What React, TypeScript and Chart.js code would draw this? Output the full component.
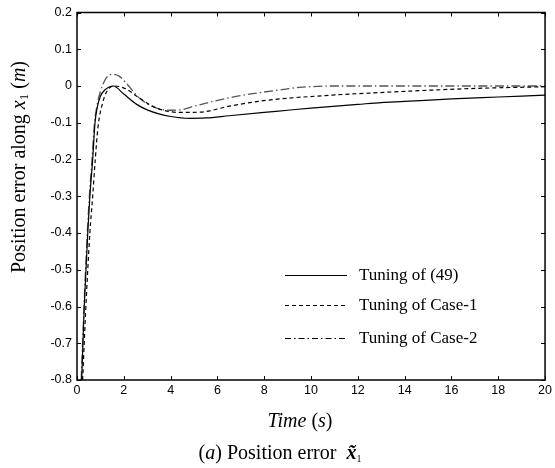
import React, { useEffect, useRef } from "react";
import { Chart, registerables } from "chart.js";

Chart.register(...registerables);

// ---- data ----
const timeTuning49 = [0.2, 0.31, 0.46, 0.55, 0.67, 0.77, 0.86, 1.0, 1.2, 1.55, 2.0, 2.55, 3.0, 3.5, 4.0, 4.8, 5.5, 6.5, 8.0, 9.0, 10, 12, 13, 14, 16, 18, 20];
const errTuning49 = [-0.8, -0.6, -0.4, -0.3, -0.2, -0.1, -0.06, -0.028, -0.01, 0.0, -0.022, -0.05, -0.065, -0.076, -0.083, -0.088, -0.087, -0.081, -0.072, -0.066, -0.06, -0.05, -0.045, -0.042, -0.035, -0.03, -0.025];

const timeCase1 = [0.24, 0.38, 0.55, 0.67, 0.78, 0.9, 1.1, 1.3, 1.6, 2.1, 2.6, 3.4, 4.4, 5.3, 6.5, 8.1, 10.6, 12.9, 16.8, 20];
const errCase1 = [-0.8, -0.6, -0.4, -0.3, -0.2, -0.11, -0.045, -0.012, 0.0, -0.008, -0.03, -0.06, -0.072, -0.071, -0.055, -0.039, -0.026, -0.018, -0.007, -0.002];

const timeCase2 = [0.18, 0.3, 0.44, 0.53, 0.64, 0.75, 0.85, 1.0, 1.25, 1.5, 1.8, 2.1, 2.7, 3.4, 4.0, 4.5, 5.0, 5.8, 6.6, 7.5, 8.5, 9.5, 11, 14, 20];
const errCase2 = [-0.8, -0.6, -0.4, -0.3, -0.2, -0.1, -0.055, -0.015, 0.022, 0.032, 0.027, 0.008, -0.035, -0.06, -0.066, -0.064, -0.055, -0.042, -0.031, -0.021, -0.012, -0.004, 0.0, 0.0, 0.0];

const legendLabels = ["Tuning of (49)", "Tuning of Case-1", "Tuning of Case-2"];
const xMin = 0, xMax = 20, xStep = 2;
const yMin = -0.8, yMax = 0.2, yStep = 0.1;

const SERIF = '"Liberation Serif", "Times New Roman", serif';
const SANS = '"Liberation Sans", Arial, sans-serif';

const lineStyles = [
  { color: "#000", dash: [] as number[], width: 1.2 },
  { color: "#000", dash: [4, 3], width: 1.2 },
  { color: "#555", dash: [9, 3, 1.5, 3], width: 1.3 },
];

type Run = { text: string; font: string; dy?: number };

function drawRuns(ctx: CanvasRenderingContext2D, runs: Run[], x: number, y: number, align: "center" | "left") {
  let total = 0;
  for (const r of runs) {
    ctx.font = r.font;
    total += ctx.measureText(r.text).width;
  }
  let cx = align === "center" ? x - total / 2 : x;
  ctx.textAlign = "left";
  ctx.textBaseline = "alphabetic";
  for (const r of runs) {
    ctx.font = r.font;
    ctx.fillText(r.text, cx, y + (r.dy || 0));
    cx += ctx.measureText(r.text).width;
  }
}

const decorPlugin = {
  id: "decor",
  afterDraw(chart: any) {
    const ctx: CanvasRenderingContext2D = chart.ctx;
    const { left, right, top, bottom } = chart.chartArea;
    const xs = chart.scales.x;
    const ys = chart.scales.y;
    ctx.save();
    ctx.strokeStyle = "#000";
    ctx.fillStyle = "#000";
    // frame
    ctx.lineWidth = 1.5;
    ctx.setLineDash([]);
    ctx.strokeRect(left, top, right - left, bottom - top);
    // inward ticks
    ctx.lineWidth = 1;
    const tl = 4;
    ctx.beginPath();
    xs.ticks.forEach((t: any) => {
      const px = Math.round(xs.getPixelForValue(t.value)) + 0.5;
      ctx.moveTo(px, bottom);
      ctx.lineTo(px, bottom - tl);
      ctx.moveTo(px, top);
      ctx.lineTo(px, top + tl);
    });
    ys.ticks.forEach((t: any) => {
      const py = Math.round(ys.getPixelForValue(t.value)) + 0.5;
      ctx.moveTo(left, py);
      ctx.lineTo(left + tl, py);
      ctx.moveTo(right, py);
      ctx.lineTo(right - tl, py);
    });
    ctx.stroke();

    // legend
    const rowsY = [275, 305, 338];
    legendLabels.forEach((lab, i) => {
      const st = lineStyles[i];
      ctx.strokeStyle = i === 2 ? "#000" : st.color;
      ctx.lineWidth = 1.1;
      ctx.setLineDash(i === 2 ? [6, 3, 1.5, 3] : st.dash);
      ctx.beginPath();
      ctx.moveTo(285, rowsY[i] + 0.5);
      ctx.lineTo(347, rowsY[i] + 0.5);
      ctx.stroke();
      ctx.setLineDash([]);
      ctx.fillStyle = "#000";
      drawRuns(ctx, [{ text: lab, font: `17px ${SERIF}` }], 359, rowsY[i] + 5, "left");
    });

    // x title
    drawRuns(
      ctx,
      [
        { text: "Time", font: `italic 20px ${SERIF}` },
        { text: " (", font: `20px ${SERIF}` },
        { text: "s", font: `italic 20px ${SERIF}` },
        { text: ")", font: `20px ${SERIF}` },
      ],
      300,
      427,
      "center"
    );

    // caption
    drawRuns(
      ctx,
      [
        { text: "(", font: `20px ${SERIF}` },
        { text: "a", font: `italic 20px ${SERIF}` },
        { text: ") Position error  ", font: `20px ${SERIF}` },
        { text: "x\u0303", font: `bold italic 20px ${SERIF}` },
        { text: "1", font: `10px ${SERIF}`, dy: 3 },
      ],
      280,
      459,
      "center"
    );

    // y title
    ctx.save();
    ctx.translate(25, 167);
    ctx.rotate(-Math.PI / 2);
    drawRuns(
      ctx,
      [
        { text: "Position error along ", font: `20px ${SERIF}` },
        { text: "x", font: `italic 20px ${SERIF}` },
        { text: "1", font: `13px ${SERIF}`, dy: 3 },
        { text: " (", font: `20px ${SERIF}` },
        { text: "m", font: `italic 20px ${SERIF}` },
        { text: ")", font: `20px ${SERIF}` },
      ],
      0,
      0,
      "center"
    );
    ctx.restore();
    ctx.restore();
  },
};

export default function App() {
  const ref = useRef<HTMLCanvasElement | null>(null);
  useEffect(() => {
    if (!ref.current) return;
    const mk = (ts: number[], es: number[]) => ts.map((t, i) => ({ x: t, y: es[i] }));
    const series = [
      mk(timeTuning49, errTuning49),
      mk(timeCase1, errCase1),
      mk(timeCase2, errCase2),
    ];
    const chart = new Chart(ref.current, {
      type: "line",
      data: {
        datasets: series.map((d, i) => ({
          label: legendLabels[i],
          data: d,
          borderColor: lineStyles[i].color,
          borderWidth: lineStyles[i].width,
          borderDash: lineStyles[i].dash,
          pointRadius: 0,
          fill: false,
          cubicInterpolationMode: "monotone" as const,
        })),
      },
      options: {
        animation: false,
        responsive: false,
        maintainAspectRatio: false,
        layout: { padding: { left: 0, right: 9, top: 12, bottom: 0 } },
        plugins: { legend: { display: false }, tooltip: { enabled: false }, title: { display: false } },
        scales: {
          x: {
            type: "linear",
            min: xMin,
            max: xMax,
            ticks: {
              stepSize: xStep,
              color: "#000",
              font: { family: SANS, size: 12.5 },
              padding: 3,
              maxRotation: 0,
              callback: (v: any) => String(v),
            },
            grid: { display: false, drawTicks: false },
            border: { display: false },
            afterFit: (s: any) => {
              s.height = 88;
            },
          },
          y: {
            type: "linear",
            min: yMin,
            max: yMax,
            ticks: {
              stepSize: yStep,
              color: "#000",
              font: { family: SANS, size: 12.5 },
              padding: 5,
              callback: (v: any) => {
                const n = Math.round(Number(v) * 10) / 10;
                return n === 0 ? "0" : n.toFixed(1);
              },
            },
            grid: { display: false, drawTicks: false },
            border: { display: false },
            afterFit: (s: any) => {
              s.width = 77;
            },
          },
        },
      },
      plugins: [decorPlugin],
    });
    return () => chart.destroy();
  }, []);
  return (
    <div style={{ position: "fixed", left: 0, top: 0, width: 555, height: 468, background: "#fff" }}>
      <canvas ref={ref} width={555} height={468} style={{ width: 555, height: 468, display: "block" }} />
    </div>
  );
}
